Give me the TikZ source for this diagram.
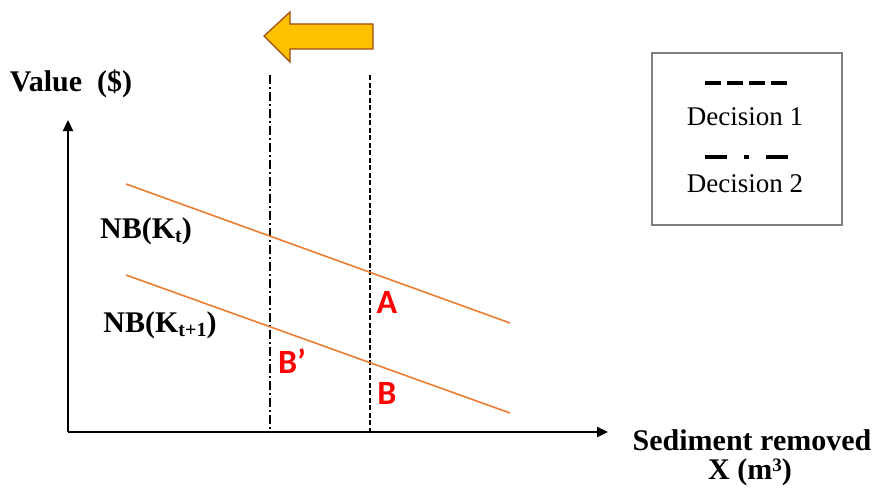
\documentclass[tikz,border=0pt]{standalone}
\usepackage{fontspec}
\setmainfont{Liberation Serif}
\newfontfamily\calfont{Carlito}
\usetikzlibrary{arrows.meta}
\definecolor{nborange}{HTML}{ED7D31}
\definecolor{arrowfill}{HTML}{FFC000}
\definecolor{arrowedge}{HTML}{9C4A12}

\begin{document}
\begin{tikzpicture}[x=1pt, y=-1pt,
  axis/.style={line width=2.3pt, -{Triangle[length=11pt,width=10pt]}},
  nbline/.style={draw=nborange, line width=1.6pt},
  decone/.style={line width=1.3pt, dash pattern=on 5pt off 2.5pt},
  dectwo/.style={line width=1.3pt, dash pattern=on 9pt off 3pt on 2pt off 3pt},
  lbl/.style={font=\fontsize{30}{34}\selectfont\bfseries, inner sep=0pt, anchor=base},
  legtxt/.style={font=\fontsize{27}{30}\selectfont, inner sep=0pt, anchor=base},
  pt/.style={font=\calfont\fontsize{34}{38}\selectfont\bfseries, text=red, inner sep=0pt}]
  \useasboundingbox (0,0) rectangle (880,487);
  % Axes
  \coordinate (o) at (68,432);
  \coordinate (ytip) at (68,120);
  \coordinate (xtip) at (608,432);
  \draw[axis] (o) -- (ytip);
  \draw[axis] (o) -- (xtip);
  \node[lbl] (value) at (71,92) {Value\ \ (\$)};
  \node[lbl] (sedlabel) at (752,450) {Sediment removed};
  \node[lbl] (xlabel) at (750,479) {X (m\raisebox{0.55ex}{\fontsize{19}{20}\selectfont 3})};
  % Decisions
  \coordinate (d2top) at (270,75);
  \coordinate (d2bot) at (270,432);
  \coordinate (d1top) at (370,75);
  \coordinate (d1bot) at (370,432);
  \draw[dectwo] (d2top) -- (d2bot);
  \draw[decone] (d1top) -- (d1bot);
  % Net benefit curves
  \coordinate (kt0) at (126,184);
  \coordinate (kt1) at (510,323);
  \coordinate (ku0) at (126,275);
  \coordinate (ku1) at (510,413);
  \draw[nbline] (kt0) -- (kt1);
  \draw[nbline] (ku0) -- (ku1);
  \node[lbl] (nbt) at (146,238) {NB(K\raisebox{-0.35ex}{\fontsize{20}{22}\selectfont t})};
  \node[lbl] (nbtt) at (160,332) {NB(K\raisebox{-0.35ex}{\fontsize{20}{22}\selectfont t+1})};
  \node[pt] (ptA) at (387,302) {A};
  \node[pt] (ptB) at (387,393) {B};
  \node[pt] (ptBp) at (292,361) {B’};
  % Shift arrow
  \draw[fill=arrowfill, draw=arrowedge, line width=1.2pt, line join=miter]
    (373,24) -- (290,24) -- (290,12) -- (264,36) -- (290,62) -- (290,49)
    -- (373,49) -- cycle;
  % Legend
  \node[draw=gray, line width=1.2pt, minimum width=190pt, minimum height=172pt,
        inner sep=0pt] (legend) at (747,139) {};
  \node[legtxt] (dectxt1) at (745,125) {Decision 1};
  \node[legtxt] (dectxt2) at (745,192) {Decision 2};
  \draw[line width=4pt, dash pattern=on 16pt off 6pt] (705,83) -- (789,83);
  \draw[line width=4pt, dash pattern=on 22pt off 17pt on 5pt off 17pt] (705,157) -- (788,157);
\end{tikzpicture}
\end{document}
